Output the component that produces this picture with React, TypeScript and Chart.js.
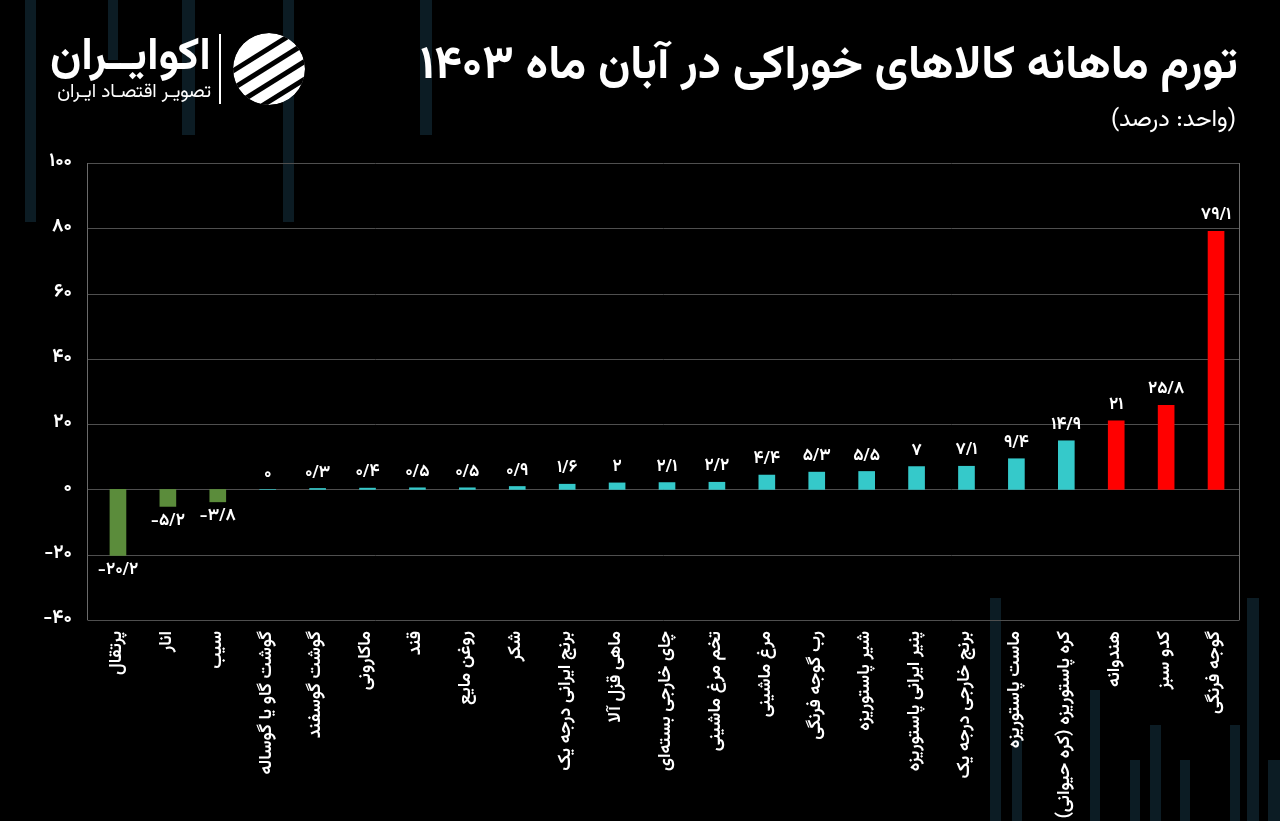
import React, { useEffect, useRef } from 'react';
import { Chart, registerables } from 'chart.js';

Chart.register(...registerables);

// ---- data ----
const categories: string[] = [
  'پرتقال',
  'انار',
  'سیب',
  'گوشت گاو یا گوساله',
  'گوشت گوسفند',
  'ماکارونی',
  'قند',
  'روغن مایع',
  'شکر',
  'برنج ایرانی درجه یک',
  'ماهی قزل آلا',
  'چای خارجی بسته‌ای',
  'تخم مرغ ماشینی',
  'مرغ ماشینی',
  'رب گوجه فرنگی',
  'شیر پاستوریزه',
  'پنیر ایرانی پاستوریزه',
  'برنج خارجی درجه یک',
  'ماست پاستوریزه',
  'کره پاستوریزه (کره حیوانی)',
  'هندوانه',
  'کدو سبز',
  'گوجه فرنگی',
];

const values: number[] = [
  -20.2, -5.2, -3.8, 0, 0.3, 0.4, 0.5, 0.5, 0.9, 1.6, 2, 2.1, 2.2, 4.4, 5.3, 5.5, 7, 7.1, 9.4, 14.9, 21, 25.8, 79.1,
];

const yMin = -40;
const yMax = 100;
const yStep = 20;

const titleText = 'تورم ماهانه کالاهای خوراکی در آبان ماه ۱۴۰۳';
const unitText = '(واحد: درصد)';
const brandText = 'اکوایــران';
const brandSub = 'تصویـر اقتصـاد ایـران';

// ---- styles ----
const FONT = "'Vazirmatn', 'Noto Sans Arabic', 'Noto Naskh Arabic', 'DejaVu Sans', sans-serif";
const GREEN = '#5b8c3b';
const CYAN = '#35c9ca';
const RED = '#ff0000';
const GRID = '#4f4f4f';
const AXIS = '#6a6a6a';

const FA_DIGITS = '۰۱۲۳۴۵۶۷۸۹';
const toFa = (s: string) => s.replace(/\d/g, (d) => FA_DIGITS[+d]);
const fmt = (v: number) => toFa(String(v).replace('.', '/'));
const colorFor = (v: number) => (v < 0 ? GREEN : v >= 20 ? RED : CYAN);

// faint decorative background stripes
const decor: { l: number; t: number; w: number; h: number }[] = [
  { l: 25, t: 0, w: 11, h: 222 },
  { l: 108, t: 0, w: 10, h: 60 },
  { l: 182, t: 0, w: 13, h: 135 },
  { l: 283, t: 0, w: 11, h: 222 },
  { l: 420, t: 0, w: 12, h: 135 },
  { l: 990, t: 598, w: 11, h: 223 },
  { l: 1012, t: 740, w: 10, h: 81 },
  { l: 1090, t: 690, w: 10, h: 131 },
  { l: 1130, t: 760, w: 10, h: 61 },
  { l: 1150, t: 725, w: 11, h: 96 },
  { l: 1180, t: 760, w: 10, h: 61 },
  { l: 1230, t: 725, w: 10, h: 96 },
  { l: 1247, t: 598, w: 12, h: 223 },
  { l: 1268, t: 760, w: 12, h: 61 },
];

// grid frame extends slightly past the category band, as in the source
const FRAME_LEFT_OFFSET = 6;
const FRAME_RIGHT_OFFSET = 2;

const gridPlugin = {
  id: 'frameGrid',
  beforeDatasetsDraw(chart: any) {
    const ctx = chart.ctx as CanvasRenderingContext2D;
    const a = chart.chartArea;
    const ys = chart.scales.y;
    const x0 = Math.round(a.left - FRAME_LEFT_OFFSET) + 0.5;
    const x1 = Math.round(a.right - FRAME_RIGHT_OFFSET) + 0.5;
    ctx.save();
    ctx.lineWidth = 1;
    ctx.strokeStyle = GRID;
    ys.ticks.forEach((t: any) => {
      const y = Math.round(ys.getPixelForValue(t.value)) + 0.5;
      ctx.beginPath();
      ctx.moveTo(x0, y);
      ctx.lineTo(x1, y);
      ctx.stroke();
    });
    ctx.strokeStyle = AXIS;
    ctx.beginPath();
    ctx.moveTo(x0, a.top);
    ctx.lineTo(x0, a.bottom);
    ctx.moveTo(x1, a.top);
    ctx.lineTo(x1, a.bottom);
    ctx.stroke();
    ctx.restore();
  },
};

const valueLabelPlugin = {
  id: 'valueLabels',
  afterDatasetsDraw(chart: any) {
    const ctx = chart.ctx as CanvasRenderingContext2D;
    const meta = chart.getDatasetMeta(0);
    ctx.save();
    ctx.font = `bold 17px ${FONT}`;
    ctx.fillStyle = '#ffffff';
    ctx.textAlign = 'center';
    meta.data.forEach((el: any, i: number) => {
      const v = values[i];
      const { x, y } = el.getProps(['x', 'y'], true);
      if (v >= 0) {
        ctx.textBaseline = 'bottom';
        ctx.fillText(fmt(v), x, y - 6);
      } else {
        ctx.textBaseline = 'top';
        ctx.fillText(fmt(v), x, y + 7);
      }
    });
    ctx.restore();
  },
};

function Logo() {
  return (
    <svg width={76} height={76} viewBox="0 0 76 76" style={{ position: 'absolute', left: 231, top: 31 }}>
      <defs>
        <clipPath id="lc">
          <circle cx={38} cy={38} r={36} />
        </clipPath>
      </defs>
      <g clipPath="url(#lc)">
        <circle cx={38} cy={38} r={36} fill="#ffffff" />
        <g transform="rotate(-32 38 38)">
          <rect x={-20} y={18} width={120} height={5} fill="#000" />
          <rect x={-20} y={33} width={120} height={5} fill="#000" />
          <rect x={-20} y={48} width={120} height={5} fill="#000" />
          <rect x={-20} y={63} width={120} height={5} fill="#000" />
        </g>
      </g>
    </svg>
  );
}

export default function App() {
  const canvasRef = useRef<HTMLCanvasElement | null>(null);

  useEffect(() => {
    document.body.style.margin = '0';
    document.body.style.background = '#000';
    const canvas = canvasRef.current;
    if (!canvas) return;
    const chart = new Chart(canvas, {
      type: 'bar',
      data: {
        labels: categories.map((c) => c + '\u200F'),
        datasets: [
          {
            data: values,
            backgroundColor: values.map(colorFor),
            borderWidth: 0,
            barThickness: 16,
          },
        ],
      },
      options: {
        responsive: false,
        animation: false,
        layout: { padding: { left: 8, right: 39, top: 163, bottom: 0 } },
        plugins: {
          legend: { display: false },
          tooltip: { enabled: false },
        },
        scales: {
          x: {
            grid: { display: false, drawTicks: false },
            border: { display: false },
            ticks: {
              color: '#ffffff',
              font: { family: FONT, size: 18, weight: '600' },
              minRotation: 90,
              maxRotation: 90,
              autoSkip: false,
              padding: 11,
            },
            afterFit: (scale: any) => {
              scale.height = 201;
            },
          },
          y: {
            min: yMin,
            max: yMax,
            grid: { display: false, drawTicks: false },
            border: { display: false },
            ticks: {
              stepSize: yStep,
              color: '#ffffff',
              font: { family: FONT, size: 19, weight: 'bold' },
              padding: 21,
              callback: (v: any) => toFa(String(v)),
            },
            afterFit: (scale: any) => {
              scale.width = 85;
            },
          },
        },
      },
      plugins: [gridPlugin, valueLabelPlugin],
    });
    return () => chart.destroy();
  }, []);

  return (
    <div style={{ position: 'relative', width: 1280, height: 821, background: '#000', overflow: 'hidden' }}>
      {decor.map((d, i) => (
        <div
          key={i}
          style={{ position: 'absolute', left: d.l, top: d.t, width: d.w, height: d.h, background: '#0c1c24' }}
        />
      ))}
      <canvas ref={canvasRef} width={1280} height={821} style={{ position: 'absolute', left: 0, top: 0 }} />
      <div
        dir="rtl"
        style={{
          position: 'absolute',
          right: 42,
          top: 35,
          color: '#fff',
          fontFamily: FONT,
          fontWeight: 'bold',
          fontSize: 46.5,
          lineHeight: '64px',
          whiteSpace: 'nowrap',
        }}
      >
        {titleText}
      </div>
      <div
        dir="rtl"
        style={{
          position: 'absolute',
          right: 44,
          top: 103,
          color: '#fff',
          fontFamily: FONT,
          fontSize: 24,
          lineHeight: '34px',
          whiteSpace: 'nowrap',
        }}
      >
        {unitText}
      </div>
      <div
        dir="rtl"
        style={{
          position: 'absolute',
          right: 1280 - 211,
          top: 28,
          color: '#fff',
          fontFamily: FONT,
          fontWeight: 'bold',
          fontSize: 45,
          lineHeight: '60px',
          whiteSpace: 'nowrap',
        }}
      >
        {brandText}
      </div>
      <div
        dir="rtl"
        style={{
          position: 'absolute',
          right: 1280 - 211,
          top: 80,
          color: '#fff',
          fontFamily: FONT,
          fontSize: 19,
          lineHeight: '26px',
          whiteSpace: 'nowrap',
        }}
      >
        {brandSub}
      </div>
      <div style={{ position: 'absolute', left: 219, top: 34, width: 2, height: 70, background: '#fff' }} />
      <Logo />
    </div>
  );
}
